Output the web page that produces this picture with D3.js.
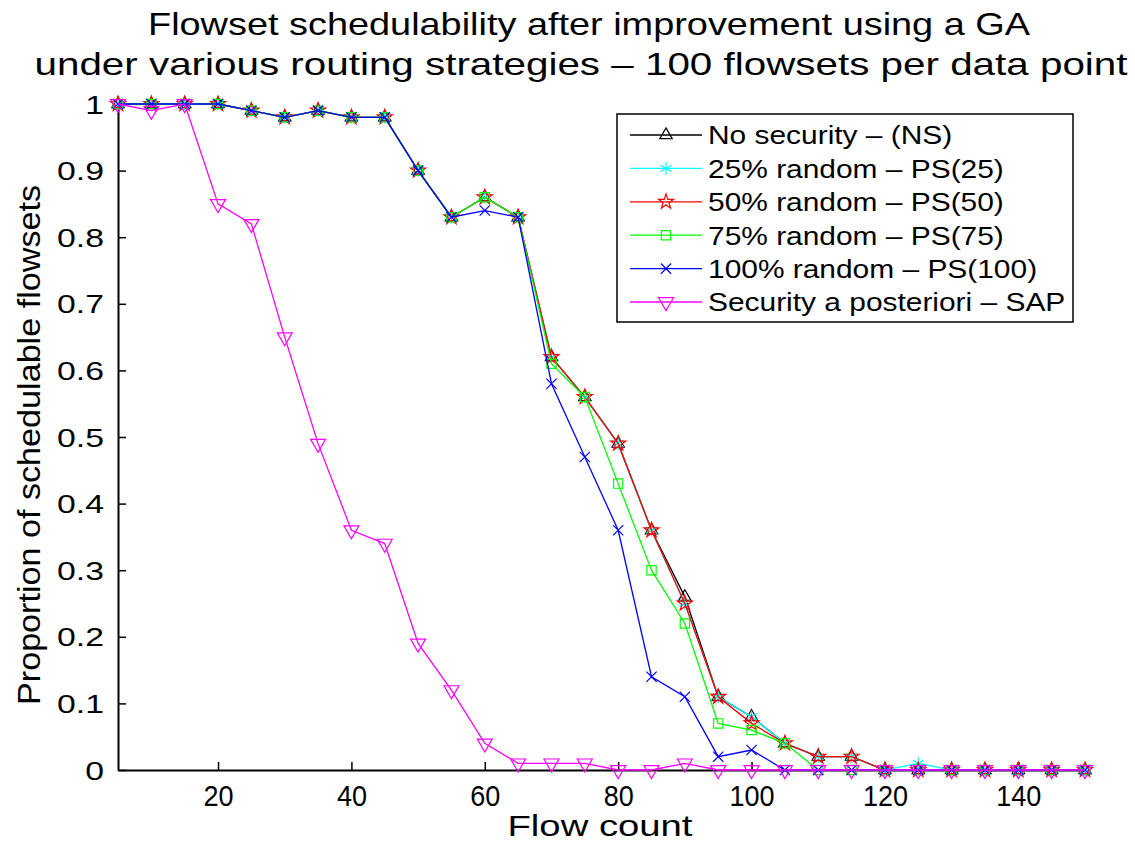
<!DOCTYPE html>
<html>
<head>
<meta charset="utf-8">
<script src="https://cdn.jsdelivr.net/npm/d3@7"></script>
<style>
  body { margin: 0; background: #fff; }
  text { font-family: "Liberation Sans", Arial, sans-serif; fill: #000; }
</style>
</head>
<body>
<div id="wrapper"></div>
<script>
// flow counts on the x axis
const flowCount = [5, 10, 15, 20, 25, 30, 35, 40, 45, 50, 55, 60, 65, 70, 75,
  80, 85, 90, 95, 100, 105, 110, 115, 120, 125, 130, 135, 140, 145, 150]

// proportion of schedulable flowsets, one array per routing strategy
const noSecurity = [1, 1, 1, 1, 0.99, 0.98, 0.99, 0.98, 0.98, 0.90, 0.83, 0.86, 0.83, 0.62, 0.56,
  0.49, 0.36, 0.26, 0.11, 0.08, 0.04, 0.02, 0.02, 0, 0, 0, 0, 0, 0, 0]
const ps25 = [1, 1, 1, 1, 0.99, 0.98, 0.99, 0.98, 0.98, 0.90, 0.83, 0.86, 0.83, 0.62, 0.56,
  0.49, 0.36, 0.25, 0.11, 0.08, 0.04, 0.02, 0.02, 0, 0.01, 0, 0, 0, 0, 0]
const ps50 = [1, 1, 1, 1, 0.99, 0.98, 0.99, 0.98, 0.98, 0.90, 0.83, 0.86, 0.83, 0.62, 0.56,
  0.49, 0.36, 0.25, 0.11, 0.07, 0.04, 0.02, 0.02, 0, 0, 0, 0, 0, 0, 0]
const ps75 = [1, 1, 1, 1, 0.99, 0.98, 0.99, 0.98, 0.98, 0.90, 0.83, 0.86, 0.83, 0.61, 0.56,
  0.43, 0.30, 0.22, 0.07, 0.06, 0.04, 0, 0, 0, 0, 0, 0, 0, 0, 0]
const ps100 = [1, 1, 1, 1, 0.99, 0.98, 0.99, 0.98, 0.98, 0.90, 0.83, 0.84, 0.83, 0.58, 0.47,
  0.36, 0.14, 0.11, 0.02, 0.03, 0, 0, 0, 0, 0, 0, 0, 0, 0, 0]
const sap = [1, 0.99, 1, 0.85, 0.82, 0.65, 0.49, 0.36, 0.34, 0.19, 0.12, 0.04, 0.01, 0.01, 0.01,
  0, 0, 0.01, 0, 0, 0, 0, 0, 0, 0, 0, 0, 0, 0, 0]

const seriesNames = ["No security \u2013 (NS)", "25% random \u2013 PS(25)", "50% random \u2013 PS(50)",
  "75% random \u2013 PS(75)", "100% random \u2013 PS(100)", "Security a posteriori \u2013 SAP"]

const xTicks = [20, 40, 60, 80, 100, 120, 140]
const yTicks = [0, 0.1, 0.2, 0.3, 0.4, 0.5, 0.6, 0.7, 0.8, 0.9, 1]

const titleLines = ["Flowset schedulability after improvement using a GA",
  "under various routing strategies \u2013 100 flowsets per data point"]

const series = [
  {name: seriesNames[0], values: noSecurity, color: "#000000", marker: "triUp"},
  {name: seriesNames[1], values: ps25, color: "#00ffff", marker: "asterisk"},
  {name: seriesNames[2], values: ps50, color: "#ff0000", marker: "star"},
  {name: seriesNames[3], values: ps75, color: "#00ff00", marker: "square"},
  {name: seriesNames[4], values: ps100, color: "#0000ff", marker: "cross"},
  {name: seriesNames[5], values: sap, color: "#ff00ff", marker: "triDown"}
]

const width = 1135
const height = 845
const dims = {left: 118, right: 1085, top: 104, bottom: 770}

const svg = d3.select("#wrapper").append("svg")
  .attr("width", width)
  .attr("height", height)

const x = d3.scaleLinear().domain([5, 150]).range([dims.left, dims.right])
const y = d3.scaleLinear().domain([0, 1]).range([dims.bottom, dims.top])

// stretch a text horizontally by a factor (the original fonts are wider / narrower)
function stretch(sel, factor) {
  sel.each(function() {
    const w = this.getComputedTextLength()
    d3.select(this).attr("textLength", w * factor).attr("lengthAdjust", "spacingAndGlyphs")
  })
}
function fitTo(sel, w) {
  sel.attr("textLength", w).attr("lengthAdjust", "spacingAndGlyphs")
}

// title
svg.append("g").selectAll("text")
  .data(titleLines)
  .join("text")
  .attr("x", (d, i) => i == 0 ? 589 : 581)
  .attr("y", (d, i) => i == 0 ? 35 : 75)
  .attr("text-anchor", "middle")
  .attr("font-size", "32px")
  .text(d => d)
  .each(function(d, i) { fitTo(d3.select(this), i == 0 ? 882 : 1093) })

// axes
const yAxis = svg.append("g")
  .attr("transform", `translate(${dims.left},0)`)
  .call(d3.axisLeft(y).tickValues(yTicks).tickSizeInner(-8).tickSizeOuter(0).tickPadding(14)
    .tickFormat(d => d == 0 ? "0" : d == 1 ? "1" : d.toFixed(1)))
yAxis.select(".domain").attr("stroke-width", 2)
yAxis.selectAll(".tick line").attr("stroke-width", 1.5)
yAxis.selectAll("text").attr("font-size", "25px").attr("font-family", "Liberation Sans")
  .attr("dy", "0.36em")
stretch(yAxis.selectAll("text"), 1.35)

const xAxis = svg.append("g")
  .attr("transform", `translate(0,${dims.bottom})`)
  .call(d3.axisBottom(x).tickValues(xTicks).tickSizeInner(-8).tickSizeOuter(0).tickPadding(15))
xAxis.select(".domain").attr("stroke-width", 2)
xAxis.selectAll(".tick line").attr("stroke-width", 1.5)
xAxis.selectAll("text").attr("font-size", "30px").attr("font-family", "Liberation Sans")
  .attr("dy", "0.71em")
stretch(xAxis.selectAll("text"), 0.9)

// axis labels
svg.append("text")
  .attr("x", 600)
  .attr("y", 836)
  .attr("text-anchor", "middle")
  .attr("font-size", "30px")
  .text("Flow count")
  .call(fitTo, 185)

svg.append("text")
  .attr("transform", "translate(40,445) rotate(-90)")
  .attr("text-anchor", "middle")
  .attr("font-size", "32px")
  .text("Proportion of schedulable flowsets")
  .call(fitTo, 520)

// markers
function markerPath(type) {
  if (type == "triUp") return d3.symbol(d3.symbolTriangle2, 110)()
  if (type == "triDown") return d3.symbol(d3.symbolTriangle2, 160)()
  if (type == "square") return d3.symbol(d3.symbolSquare2, 110)()
  if (type == "asterisk") return d3.symbol(d3.symbolAsterisk, 110)()
  if (type == "cross") return d3.symbol(d3.symbolX, 70)()
  if (type == "star") return d3.symbol(d3.symbolStar, 70)()
}
function markerRotate(type) {
  return type == "triDown" ? " rotate(180)" : ""
}

const line = d3.line()
  .x(d => x(d[0]))
  .y(d => y(d[1]))

const plot = svg.append("g")
series.forEach(s => {
  const pts = flowCount.map((f, i) => [f, s.values[i]])
  const g = plot.append("g")
  g.append("path")
    .datum(pts)
    .attr("d", line)
    .attr("fill", "none")
    .attr("stroke", s.color)
    .attr("stroke-width", 1.3)
  g.selectAll("path.mk")
    .data(pts)
    .join("path")
    .attr("class", "mk")
    .attr("d", markerPath(s.marker))
    .attr("transform", d => `translate(${x(d[0])},${y(d[1])})` + markerRotate(s.marker))
    .attr("fill", "none")
    .attr("stroke", s.color)
    .attr("stroke-width", 1.2)
})

// legend
const legend = svg.append("g")
legend.append("rect")
  .attr("x", 617)
  .attr("y", 114)
  .attr("width", 456)
  .attr("height", 208)
  .attr("fill", "#fff")
  .attr("stroke", "#000")
  .attr("stroke-width", 1.5)

const rowY = d3.scaleLinear().domain([0, 5]).range([135, 302])
const items = legend.selectAll("g.item")
  .data(series)
  .join("g")
  .attr("class", "item")
  .attr("transform", (d, i) => `translate(0,${rowY(i)})`)
items.append("line")
  .attr("x1", 630).attr("x2", 702)
  .attr("stroke", d => d.color)
  .attr("stroke-width", 1.3)
items.append("path")
  .attr("d", d => markerPath(d.marker))
  .attr("transform", d => "translate(666,0)" + markerRotate(d.marker))
  .attr("fill", "none")
  .attr("stroke", d => d.color)
  .attr("stroke-width", 1.2)
items.append("text")
  .attr("x", 708)
  .attr("dy", "0.36em")
  .attr("font-size", "26px")
  .text(d => d.name)
stretch(items.selectAll("text"), 1.15)
</script>
</body>
</html>
